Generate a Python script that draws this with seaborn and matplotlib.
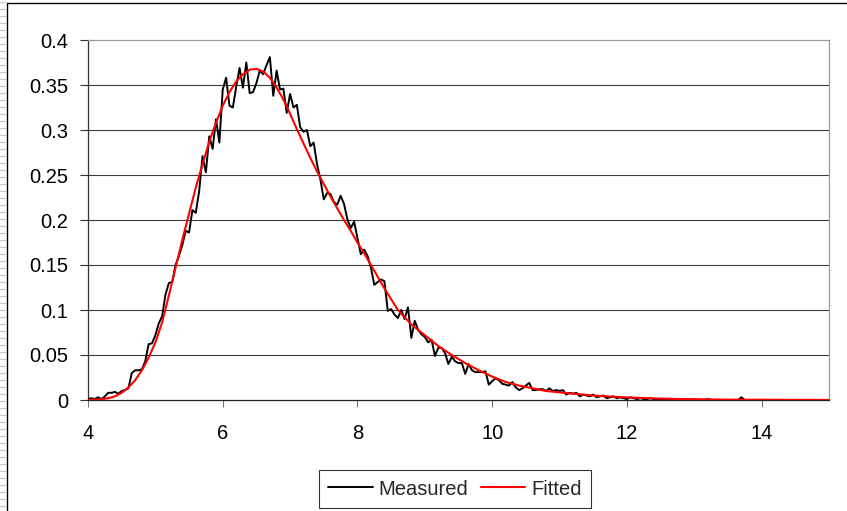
import numpy as np
import pandas as pd
import matplotlib
matplotlib.use("Agg")
import matplotlib.pyplot as plt
from matplotlib.lines import Line2D
import seaborn as sns

# Measured histogram, sampled every 0.05 starting at 4.0
measured_start = 4.0
measured_step = 0.05
measured = [
    0.001, 0.002, 0.001, 0.003, 0.001, 0.004, 0.008, 0.008, 0.009, 0.007,
    0.010, 0.011, 0.013, 0.030, 0.033, 0.033, 0.034, 0.043, 0.062, 0.063,
    0.072, 0.085, 0.093, 0.117, 0.130, 0.131, 0.150, 0.160, 0.172, 0.188,
    0.186, 0.211, 0.208, 0.232, 0.271, 0.253, 0.293, 0.279, 0.312, 0.286,
    0.345, 0.358, 0.327, 0.325, 0.348, 0.369, 0.347, 0.375, 0.341, 0.342,
    0.352, 0.366, 0.362, 0.372, 0.381, 0.338, 0.366, 0.345, 0.346, 0.319,
    0.340, 0.325, 0.328, 0.303, 0.298, 0.300, 0.282, 0.286, 0.262, 0.245,
    0.223, 0.230, 0.229, 0.220, 0.217, 0.227, 0.218, 0.201, 0.191, 0.198,
    0.180, 0.162, 0.167, 0.160, 0.147, 0.128, 0.131, 0.134, 0.132, 0.099,
    0.101, 0.095, 0.091, 0.100, 0.090, 0.103, 0.069, 0.088, 0.078, 0.073,
    0.070, 0.064, 0.067, 0.049, 0.058, 0.058, 0.052, 0.040, 0.048, 0.043,
    0.041, 0.041, 0.029, 0.040, 0.033, 0.031, 0.031, 0.031, 0.032, 0.017,
    0.021, 0.024, 0.022, 0.018, 0.017, 0.016, 0.020, 0.014, 0.011, 0.013,
    0.016, 0.019, 0.011, 0.011, 0.012, 0.012, 0.010, 0.013, 0.010, 0.011,
    0.010, 0.011, 0.006, 0.008, 0.007, 0.008, 0.004, 0.006, 0.005, 0.004,
    0.006, 0.003, 0.004, 0.005, 0.002, 0.003, 0.004, 0.002, 0.003, 0.002,
    0.001, 0.003, 0.002, 0.001, 0.002, 0.001, 0.001, 0.002, 0.001, 0.000,
    0.001, 0.001, 0.000, 0.001, 0.000, 0.001, 0.000, 0.001, 0.000, 0.000,
    0.001, 0.000, 0.000, 0.000, 0.001, 0.000, 0.000, 0.000, 0.000, 0.000,
    0.000, 0.000, 0.000, 0.000, 0.003, 0.000, 0.000,
]

# Fitted distribution, tabulated every 0.1 from 4.0 to 15.0
fitted_x = [
    4.0, 4.1, 4.2, 4.3, 4.4, 4.5, 4.6, 4.7, 4.8, 4.9,
    5.0, 5.1, 5.2, 5.3, 5.4, 5.5, 5.6, 5.7, 5.8, 5.9,
    6.0, 6.1, 6.2, 6.3, 6.4, 6.5, 6.6, 6.7, 6.8, 6.9,
    7.0, 7.1, 7.2, 7.3, 7.4, 7.5, 7.6, 7.7, 7.8, 7.9,
    8.0, 8.1, 8.2, 8.3, 8.4, 8.5, 8.6, 8.7, 8.8, 8.9,
    9.0, 9.2, 9.4, 9.6, 9.8, 10.0, 10.2, 10.4, 10.6, 10.8,
    11.0, 11.2, 11.4, 11.6, 11.8, 12.0, 12.2, 12.4, 12.6, 12.8,
    13.0, 13.2, 13.4, 13.6, 13.8, 14.0, 14.5, 15.0,
]
fitted_y = [
    0.000, 0.0003, 0.0008, 0.002, 0.004, 0.008, 0.014, 0.022, 0.033, 0.047,
    0.064, 0.086, 0.116, 0.147, 0.178, 0.207, 0.236, 0.262, 0.287, 0.308,
    0.327, 0.342, 0.354, 0.362, 0.367, 0.368, 0.365, 0.358, 0.347, 0.334,
    0.318, 0.301, 0.285, 0.269, 0.254, 0.240, 0.226, 0.213, 0.200, 0.188,
    0.175, 0.163, 0.150, 0.137, 0.124, 0.112, 0.100, 0.092, 0.084, 0.078,
    0.072, 0.060, 0.050, 0.041, 0.033, 0.026, 0.020, 0.016, 0.013, 0.010,
    0.0085, 0.007, 0.0056, 0.0045, 0.0036, 0.0029, 0.0023, 0.0018, 0.0014, 0.0011,
    0.0009, 0.0007, 0.0005, 0.0004, 0.0003, 0.0003, 0.0002, 0.0001,
]

x_ticks = [4, 6, 8, 10, 12, 14]
y_ticks = [0, 0.05, 0.1, 0.15, 0.2, 0.25, 0.3, 0.35, 0.4]
y_tick_labels = ["0", "0.05", "0.1", "0.15", "0.2", "0.25", "0.3", "0.35", "0.4"]

measured_x = np.round(measured_start + measured_step * np.arange(len(measured)), 2)
df_measured = pd.DataFrame({"x": measured_x, "y": measured})
df_fitted = pd.DataFrame({"x": fitted_x, "y": fitted_y})

sns.set_style("white")
plt.rcParams["font.family"] = ["Liberation Sans", "DejaVu Sans"]

FS = 14.5
W, H = 847, 511
fig = plt.figure(figsize=(W / 100, H / 100), dpi=100)
ax = fig.add_axes([88 / W, 1 - 400 / H, (829 - 88) / W, (400 - 40) / H])

sns.lineplot(data=df_measured, x="x", y="y", ax=ax, color="#000000",
             linewidth=1.4, label="Measured", zorder=3)
sns.lineplot(data=df_fitted, x="x", y="y", ax=ax, color="#ff0000",
             linewidth=1.5, label="Fitted", zorder=4)

ax.set_xlim(4, 15)
ax.set_ylim(0, 0.4)
ax.set_xticks(x_ticks)
ax.set_xticklabels([str(t) for t in x_ticks])
ax.set_yticks(y_ticks)
ax.set_yticklabels(y_tick_labels)
ax.set_xlabel("")
ax.set_ylabel("")

for yv in y_ticks[1:-1]:
    ax.axhline(yv, color="#3a3a3a", linewidth=0.8, zorder=1)

for side in ("top", "right"):
    ax.spines[side].set_visible(True)
    ax.spines[side].set_color("#999999")
    ax.spines[side].set_linewidth(0.9)
ax.spines["left"].set_color("#333333")
ax.spines["bottom"].set_color("#222222")
ax.spines["left"].set_linewidth(0.9)
ax.spines["bottom"].set_linewidth(0.9)

ax.tick_params(axis="y", direction="out", length=6, width=0.8, color="#333333",
               pad=8, labelsize=FS, labelcolor="#000000", left=True)
ax.tick_params(axis="x", direction="out", length=5, width=0.8, color="#777777",
               pad=12, labelsize=FS, labelcolor="#000000", bottom=True)

ax.get_legend().remove()
handles = [Line2D([0], [0], color="#000000", lw=1.4),
           Line2D([0], [0], color="#ff0000", lw=1.5)]
leg = fig.legend(handles, ["Measured", "Fitted"], loc="center",
                 bbox_to_anchor=(455 / W, 1 - 489 / H), ncol=2, fontsize=FS,
                 frameon=True, fancybox=False, handlelength=2.2,
                 handletextpad=0.3, columnspacing=0.6, borderpad=0.45,
                 borderaxespad=0)
leg.get_frame().set_edgecolor("#000000")
leg.get_frame().set_linewidth(0.8)

# Chart area border and the worksheet strip on the far left
fig.add_artist(Line2D([7 / W, 7 / W], [0, 1 - 3 / H], transform=fig.transFigure,
                      color="#000000", lw=1.0))
fig.add_artist(Line2D([7 / W, 1], [1 - 3 / H, 1 - 3 / H], transform=fig.transFigure,
                      color="#000000", lw=1.0))
for yy in range(2, H, 7):
    fig.add_artist(Line2D([0, 5 / W], [1 - yy / H, 1 - yy / H], transform=fig.transFigure,
                          color="#c8c8c8", lw=0.9))

fig.savefig("out.png", dpi=100)
